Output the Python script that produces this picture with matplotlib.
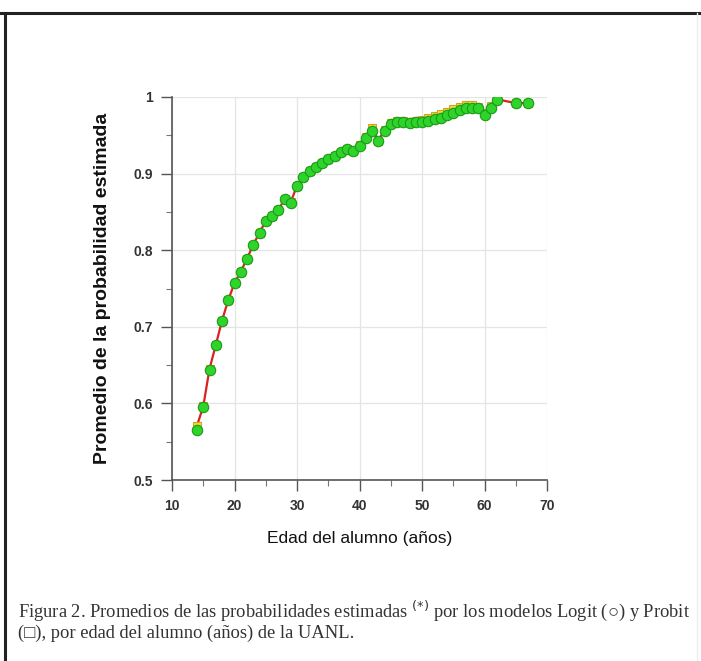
import numpy as np
import matplotlib
matplotlib.use('Agg')
import matplotlib.pyplot as plt
from matplotlib.lines import Line2D
from matplotlib.ticker import MultipleLocator, FuncFormatter

# edad del alumno (anios)
edad = [14, 15, 16, 17, 18, 19, 20, 21, 22, 23, 24, 25, 26, 27, 28, 29, 30,
        31, 32, 33, 34, 35, 36, 37, 38, 39, 40, 41, 42, 43, 44, 45, 46, 47,
        48, 49, 50, 51, 52, 53, 54, 55, 56, 57, 58, 59, 60, 61, 62, 65, 67]

# promedio de probabilidad estimada - modelo Logit (circulos)
logit = [0.565, 0.595, 0.644, 0.676, 0.708, 0.735, 0.757, 0.772, 0.789, 0.807,
         0.823, 0.838, 0.845, 0.852, 0.867, 0.862, 0.884, 0.895, 0.903, 0.909,
         0.914, 0.919, 0.923, 0.928, 0.932, 0.929, 0.936, 0.946, 0.956, 0.942,
         0.956, 0.965, 0.968, 0.968, 0.966, 0.967, 0.967, 0.969, 0.971, 0.973,
         0.976, 0.979, 0.983, 0.985, 0.986, 0.985, 0.977, 0.986, 0.996, 0.992,
         0.992]

# modelo Probit (cuadrados)
probit = [0.571, 0.596, 0.645, 0.676, 0.708, 0.735, 0.757, 0.772, 0.789, 0.807,
          0.823, 0.838, 0.845, 0.852, 0.867, 0.863, 0.884, 0.895, 0.903, 0.909,
          0.914, 0.919, 0.923, 0.928, 0.932, 0.930, 0.937, 0.948, 0.960, 0.943,
          0.957, 0.966, 0.969, 0.969, 0.968, 0.969, 0.970, 0.972, 0.975, 0.978,
          0.981, 0.984, 0.987, 0.989, 0.989, 0.987, 0.979, 0.988, 0.997, 0.992,
          0.992]

W, H = 701, 661
fig = plt.figure(figsize=(W / 100, H / 100), dpi=100)

# marco de la figura (borde superior e izquierdo)
fig.add_artist(Line2D([0, 1], [1 - 13 / H, 1 - 13 / H], color='#222222', lw=2.2))
fig.add_artist(Line2D([5 / W, 5 / W], [0, 1 - 13 / H], color='#222222', lw=2.2))
fig.add_artist(Line2D([697 / W, 697 / W], [0, 1 - 13 / H], color='#eeeeee', lw=1))

ax = fig.add_axes([172 / W, 1 - 480 / H, 375 / W, 383 / H])

ax.plot(edad, probit, color='#dd2020', lw=1.6, marker='s', ms=6,
        mfc='#e8e040', mec='#d8a020', mew=0.8, zorder=3)
ax.plot(edad, logit, ls='none', marker='o', ms=7.5,
        mfc='#2ed42a', mec='#1a9a1a', mew=0.8, zorder=4)

ax.set_xlim(10, 70)
ax.set_ylim(0.5, 1.0)
ax.xaxis.set_major_locator(MultipleLocator(10))
ax.xaxis.set_minor_locator(MultipleLocator(5))
ax.yaxis.set_major_locator(MultipleLocator(0.1))
ax.yaxis.set_minor_locator(MultipleLocator(0.05))
ax.yaxis.set_major_formatter(FuncFormatter(lambda v, p: '1' if abs(v - 1) < 1e-9 else '%.1f' % v))

ax.grid(True, which='major', color='#e4e4e4', lw=0.9)
ax.set_axisbelow(True)
for s in ['top', 'right']:
    ax.spines[s].set_visible(False)
for s in ['left', 'bottom']:
    ax.spines[s].set_color('#555555')
    ax.spines[s].set_linewidth(1.2)

ax.tick_params(which='major', direction='out', length=8, width=1, color='#555555',
               labelsize=10, labelcolor='#333333', pad=6)
ax.tick_params(which='minor', direction='out', length=4, width=0.8, color='#777777')
for lab in ax.get_xticklabels() + ax.get_yticklabels():
    lab.set_family('Liberation Sans')
    lab.set_fontweight('bold')

ax.set_xlabel('Edad del alumno (años)', family='Liberation Sans', fontsize=12.5,
              color='#111111', labelpad=13)
ax.set_ylabel('Promedio de la probabilidad estimada', family='Liberation Sans',
              fontsize=14, fontweight='bold', color='#111111', labelpad=16)

cap = ['Figura 2. Promedios de las probabilidades estimadas $^{(*)}$ por los modelos Logit (○) y Probit',
       '(□), por edad del alumno (años) de la UANL.']
fig.text(18 / W, 1 - 611 / H, cap[0], family=['Liberation Serif', 'DejaVu Serif'],
         fontsize=13.3, color='#333333', va='center')
fig.text(18 / W, 1 - 633 / H, cap[1], family=['Liberation Serif', 'DejaVu Serif'],
         fontsize=13.3, color='#333333', va='center')

fig.savefig('out.png', dpi=100)
